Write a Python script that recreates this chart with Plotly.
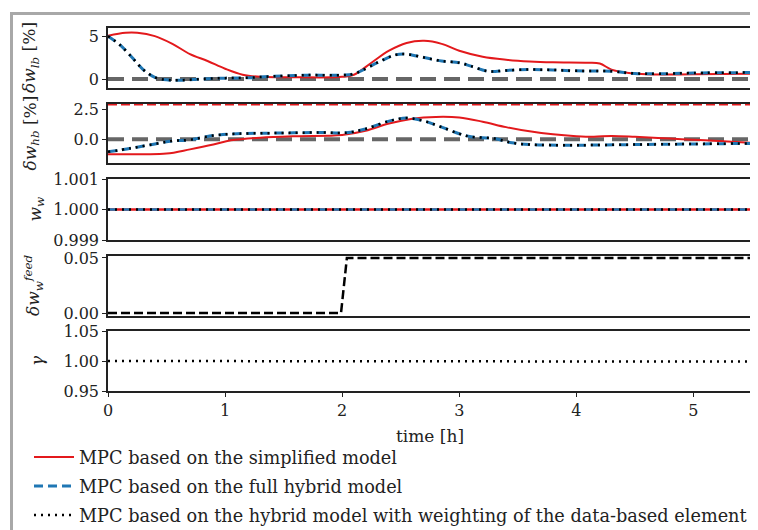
import plotly.graph_objects as go

# ---------------- data ----------------
# panel 1: delta w_lb [%]
t_lb_simpl = [0, 0.15, 0.25, 0.4, 0.55, 0.7, 0.85, 1.0, 1.15, 1.3, 1.6, 2.0, 2.1, 2.25, 2.4, 2.55, 2.7, 2.85,
              3.0, 3.2, 3.4, 3.6, 3.8, 4.1, 4.2, 4.3, 4.45, 4.6, 5.0, 5.5]
lb_simpl = [5.05, 5.4, 5.4, 5.0, 4.1, 2.9, 2.1, 1.2, 0.5, 0.25, 0.2, 0.25, 0.5, 1.9, 3.3, 4.2, 4.45, 4.1,
            3.3, 2.6, 2.25, 2.05, 1.95, 1.9, 1.8, 1.1, 0.7, 0.55, 0.55, 0.6]
t_lb_hyb = [0, 0.1, 0.2, 0.3, 0.4, 0.5, 0.6, 0.8, 1.0, 1.2, 1.4, 1.7, 2.0, 2.1, 2.3, 2.45, 2.55, 2.7, 2.85,
            3.0, 3.1, 3.25, 3.4, 3.6, 3.8, 4.0, 4.3, 4.5, 4.7, 5.0, 5.5]
lb_hyb = [5.0, 4.0, 2.6, 1.1, 0.2, -0.1, -0.15, 0.0, 0.1, 0.15, 0.3, 0.45, 0.45, 0.6, 1.9, 2.8, 2.9, 2.5, 2.1,
          1.9, 1.5, 0.9, 1.0, 1.1, 1.05, 0.95, 0.9, 0.65, 0.6, 0.7, 0.75]
lb_hyb_w = [5.0, 4.0, 2.6, 1.1, 0.2, -0.1, -0.15, 0.0, 0.1, 0.15, 0.3, 0.45, 0.45, 0.6, 1.9, 2.8, 2.9, 2.5, 2.1,
            1.9, 1.5, 0.9, 1.0, 1.1, 1.05, 0.95, 0.9, 0.65, 0.6, 0.7, 0.75]

# panel 2: delta w_hb [%]
t_hb_simpl = [0, 0.3, 0.5, 0.7, 0.9, 1.05, 1.3, 1.6, 2.0, 2.2, 2.4, 2.6, 2.8, 3.0, 3.2, 3.4, 3.6, 3.8, 4.0,
              4.15, 4.3, 4.5, 4.8, 5.1, 5.5]
hb_simpl = [-1.25, -1.25, -1.2, -0.85, -0.45, -0.1, 0.12, 0.25, 0.35, 0.7, 1.3, 1.7, 1.85, 1.8, 1.45, 1.0,
            0.65, 0.4, 0.25, 0.2, 0.27, 0.2, 0.05, -0.1, -0.3]
t_hb_hyb = [0, 0.2, 0.4, 0.55, 0.7, 0.9, 1.1, 1.4, 1.8, 2.05, 2.2, 2.4, 2.55, 2.7, 2.85, 3.0, 3.1, 3.3, 3.45,
            3.6, 4.0, 4.5, 5.0, 5.5]
hb_hyb = [-1.05, -0.75, -0.4, -0.15, -0.05, 0.3, 0.45, 0.5, 0.55, 0.55, 0.85, 1.5, 1.75, 1.5, 1.0, 0.45, 0.2,
          0.05, -0.3, -0.45, -0.5, -0.45, -0.4, -0.35]
hb_hyb_w = [-1.05, -0.75, -0.4, -0.15, -0.05, 0.3, 0.45, 0.5, 0.55, 0.55, 0.85, 1.5, 1.75, 1.5, 1.0, 0.45, 0.2,
            0.05, -0.3, -0.45, -0.5, -0.45, -0.4, -0.35]
hb_upper = [2.85, 2.85]

# panel 3: w_w
t_ww = [0, 5.5]
ww_simpl = [1.0, 1.0]
ww_hyb = [1.0, 1.0]
ww_hyb_w = [1.0, 1.0]

# panel 4: delta w_w^feed
t_feed = [0, 1.99, 2.04, 5.5]
feed = [0.0, 0.0, 0.05, 0.05]

# panel 5: gamma
t_gamma = [0, 3.8, 3.82, 5.5]
gamma = [1.0, 1.0, 0.999, 0.999]

t_ref = [0, 5.5]
zero_ref = [0, 0]

legend_names = ["MPC based on the simplified model",
                "MPC based on the full hybrid model",
                "MPC based on the hybrid model with weighting of the data-based element"]

# ---------------- layout helpers ----------------
OFF = 8                      # default page (body) margin of the html page
W, H = 758 - OFF, 530 - OFF  # figure size so that it fills the window
L, R, T, B = 108 - OFF, 6, 28 - OFF, 139
PW, PH = W - L - R, H - T - B


def py(y):
    """window pixel y -> paper coordinate"""
    return (H - B - (y - OFF)) / PH


def pxx(x):
    """window pixel x -> paper coordinate"""
    return ((x - OFF) - L) / PW


panels_px = [(28, 88), (104, 163), (179, 240), (256, 316), (331, 391)]

RED = "#e3191c"
BLUE = "#1f77b4"
GRAY = "#666666"
FONT = "DejaVu Serif"
DOT = "2px,5px"

fig = go.Figure()


def add(x, y, ax, color, width, dash, name=None, show=False, shape="spline"):
    fig.add_trace(go.Scatter(
        x=x, y=y, mode="lines", name=name, showlegend=show,
        line=dict(color=color, width=width, dash=dash, shape=shape),
        xaxis="x" if ax == 1 else f"x{ax}", yaxis="y" if ax == 1 else f"y{ax}",
        legendgroup=name if name else None,
    ))


# panel 1
add(t_ref, zero_ref, 1, GRAY, 4, "16px,8px", shape="linear")
add(t_lb_simpl, lb_simpl, 1, RED, 2, "solid", legend_names[0], True)
add(t_lb_hyb, lb_hyb, 1, BLUE, 3, "9px,5px", legend_names[1], True)
add(t_lb_hyb, lb_hyb_w, 1, "black", 2.5, DOT, legend_names[2], True)
# panel 2
add(t_ref, zero_ref, 2, GRAY, 4, "16px,8px", shape="linear")
add(t_ref, hb_upper, 2, RED, 1.5, "9px,4px", shape="linear")
add(t_hb_simpl, hb_simpl, 2, RED, 2, "solid")
add(t_hb_hyb, hb_hyb, 2, BLUE, 3, "9px,5px")
add(t_hb_hyb, hb_hyb_w, 2, "black", 2.5, DOT)
# panel 3
add(t_ww, ww_simpl, 3, RED, 2.5, "solid", shape="linear")
add(t_ww, ww_hyb, 3, BLUE, 2.5, "9px,5px", shape="linear")
add(t_ww, ww_hyb_w, 3, "black", 2.5, DOT, shape="linear")
# panel 4
add(t_feed, feed, 4, "black", 2.5, "9px,4px", shape="linear")
# panel 5
add(t_gamma, gamma, 5, "black", 2.5, DOT, shape="linear")

yranges = [[-1.05, 5.95], [-1.98, 2.92], [0.999, 1.001], [-0.0027, 0.0518], [0.95, 1.05]]
yticks = [[0, 5], [0.0, 2.5], [0.999, 1.0, 1.001], [0.0, 0.05], [0.95, 1.0, 1.05]]
yfmt = ["d", ".1f", ".3f", ".2f", ".2f"]
ytitles = ["<i>δw</i><sub><i>lb</i></sub> [%]", "<i>δw</i><sub><i>hb</i></sub> [%]",
           "<i>w</i><sub><i>w</i></sub>", "<i>δw</i><sub><i>w</i></sub><sup><i>feed</i></sup>", "<i>γ</i>"]
ytitle_x = [31, 31, 36, 33, 37]

axis_common = dict(showline=True, linecolor="#222", linewidth=1.5, mirror=True, showgrid=False,
                   zeroline=False, automargin=False, tickfont=dict(family=FONT, size=16, color="#222"))

annotations = []
for i, (top, bot) in enumerate(panels_px, start=1):
    key = "" if i == 1 else str(i)
    fig.layout[f"yaxis{key}"] = dict(
        domain=[py(bot), py(top)], range=yranges[i - 1], tickvals=yticks[i - 1],
        tickformat=yfmt[i - 1], ticks="outside", ticklen=4, tickcolor="#222",
        anchor="x" if i == 1 else f"x{i}", **axis_common)
    xa = dict(domain=[0, 1], range=[0, 5.5], anchor="y" if i == 1 else f"y{i}", **axis_common)
    if i == 5:
        xa.update(tickvals=[0, 1, 2, 3, 4, 5], ticks="outside", ticklen=4, tickcolor="#222",
                  title=dict(text="time [h]", font=dict(family=FONT, size=17, color="#222"), standoff=11))
    else:
        xa.update(showticklabels=False, ticks="", matches="x5")
    fig.layout[f"xaxis{key}"] = xa
    annotations.append(dict(
        text=ytitles[i - 1], xref="paper", yref="paper", x=pxx(ytitle_x[i - 1]), y=py((top + bot) / 2),
        xanchor="center", yanchor="middle", textangle=-90, showarrow=False,
        font=dict(family=FONT, size=17, color="#222")))

# frame lines of the figure (gray)
shapes = [
    dict(type="line", xref="paper", yref="paper", x0=pxx(11.5), x1=pxx(760), y0=py(13.5), y1=py(13.5),
         line=dict(color="#a8a8a8", width=3)),
    dict(type="line", xref="paper", yref="paper", x0=pxx(11.5), x1=pxx(11.5), y0=py(12), y1=py(532),
         line=dict(color="#a8a8a8", width=3)),
]

fig.update_layout(
    width=W, height=H, margin=dict(l=L, r=R, t=T, b=B, autoexpand=False),
    paper_bgcolor="white", plot_bgcolor="white",
    annotations=annotations, shapes=shapes,
    showlegend=True,
    legend=dict(x=pxx(29), y=py(439), xanchor="left", yanchor="top", orientation="v",
                font=dict(family=FONT, size=17.7, color="#222"), bgcolor="rgba(0,0,0,0)",
                tracegroupgap=3, traceorder="grouped", itemwidth=40),
)

fig.write_html("out.html")
